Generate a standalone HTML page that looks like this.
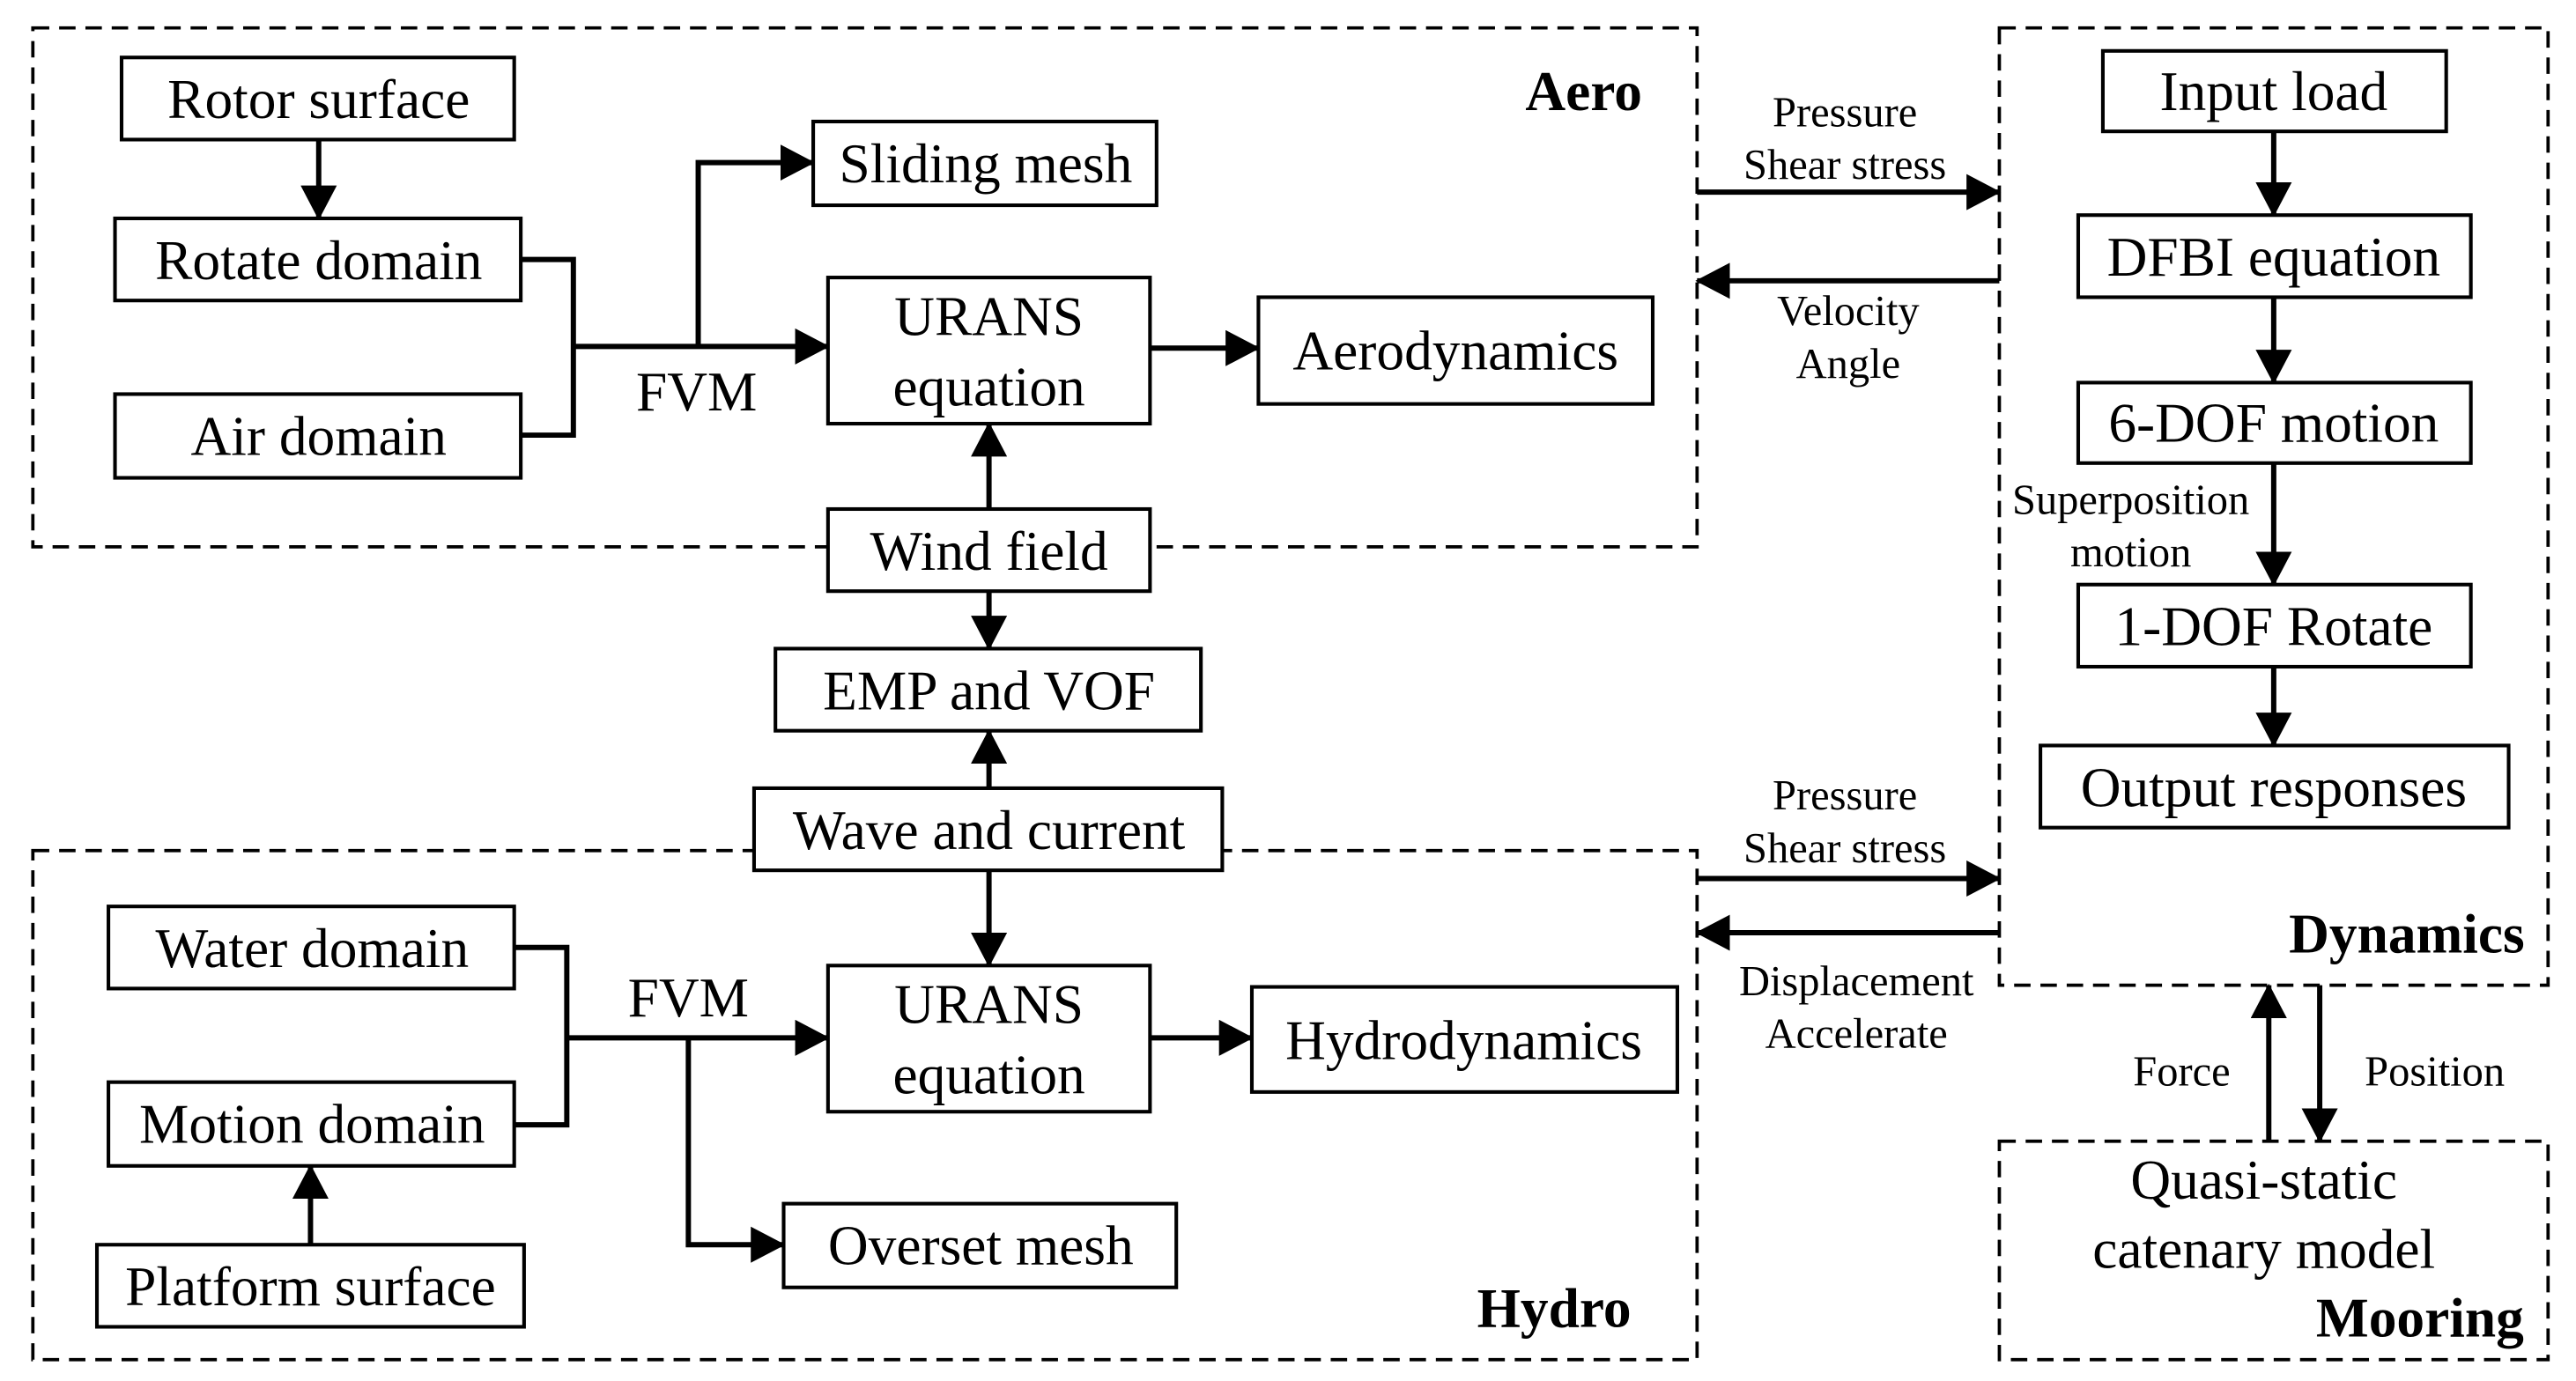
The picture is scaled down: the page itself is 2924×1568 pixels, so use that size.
<!DOCTYPE html>
<html><head><meta charset="utf-8"><style>
html,body{margin:0;padding:0;background:#fff;}
svg{display:block;}
text{font-family:"Liberation Serif","Times New Roman",serif;fill:#000;}
</style></head><body>
<svg width="2924" height="1568" viewBox="0 0 1568 841" preserveAspectRatio="none" xmlns="http://www.w3.org/2000/svg">
<defs>
<marker id="a" markerWidth="21" markerHeight="22" refX="20" refY="11" orient="auto" markerUnits="userSpaceOnUse">
<path d="M0,0 L21,11 L0,22 Z" fill="#000"/></marker>
</defs>
<g fill="none" stroke="#000" stroke-width="2" stroke-dasharray="10,6">
<rect x="20" y="17" width="1013" height="316"/>
<rect x="20" y="518" width="1013" height="310"/>
<rect x="1217" y="17" width="334" height="583"/>
<rect x="1217" y="695" width="334" height="133"/>
</g>
<g fill="#fff" stroke="#000" stroke-width="2.2">
<rect x="74" y="35" width="239" height="50"/>
<rect x="70" y="133" width="247" height="50"/>
<rect x="70" y="240" width="247" height="51"/>
<rect x="495" y="74" width="209" height="51"/>
<rect x="504" y="169" width="196" height="89"/>
<rect x="766" y="181" width="240" height="65"/>
<rect x="504" y="310" width="196" height="50"/>
<rect x="472" y="395" width="259" height="50"/>
<rect x="459" y="480" width="285" height="50"/>
<rect x="66" y="552" width="247" height="50"/>
<rect x="66" y="659" width="247" height="51"/>
<rect x="59" y="758" width="260" height="50"/>
<rect x="504" y="588" width="196" height="89"/>
<rect x="762" y="601" width="259" height="64"/>
<rect x="477" y="733" width="239" height="51"/>
<rect x="1280" y="31" width="209" height="49"/>
<rect x="1265" y="131" width="239" height="50"/>
<rect x="1265" y="233" width="239" height="49"/>
<rect x="1265" y="356" width="239" height="50"/>
<rect x="1242" y="454" width="285" height="50"/>
</g>
<g fill="none" stroke="#000" stroke-width="3.2">
<path d="M194,85 V133" marker-end="url(#a)"/>
<path d="M317,158 H349 V265 H317"/>
<path d="M349,211 H504" marker-end="url(#a)"/>
<path d="M425,211 V99 H495" marker-end="url(#a)"/>
<path d="M700,212 H766" marker-end="url(#a)"/>
<path d="M602,310 V258" marker-end="url(#a)"/>
<path d="M602,360 V395" marker-end="url(#a)"/>
<path d="M602,480 V445" marker-end="url(#a)"/>
<path d="M602,530 V588" marker-end="url(#a)"/>
<path d="M313,577 H345 V685 H313"/>
<path d="M345,632 H504" marker-end="url(#a)"/>
<path d="M419,632 V758 H477" marker-end="url(#a)"/>
<path d="M700,632 H762" marker-end="url(#a)"/>
<path d="M189,758 V710" marker-end="url(#a)"/>
<path d="M1033,117 H1217" marker-end="url(#a)"/>
<path d="M1217,171 H1033" marker-end="url(#a)"/>
<path d="M1033,535 H1217" marker-end="url(#a)"/>
<path d="M1217,568 H1033" marker-end="url(#a)"/>
<path d="M1384,80 V131" marker-end="url(#a)"/>
<path d="M1384,181 V233" marker-end="url(#a)"/>
<path d="M1384,282 V356" marker-end="url(#a)"/>
<path d="M1384,406 V454" marker-end="url(#a)"/>
<path d="M1381,695 V600" marker-end="url(#a)"/>
<path d="M1412,600 V695" marker-end="url(#a)"/>
</g>
<g font-size="34" text-anchor="middle">
<text x="194" y="72">Rotor surface</text>
<text x="194" y="170">Rotate domain</text>
<text x="194" y="277">Air domain</text>
<text x="600" y="111">Sliding mesh</text>
<text x="602" y="204">URANS</text>
<text x="602" y="247">equation</text>
<text x="886" y="225">Aerodynamics</text>
<text x="602" y="347">Wind field</text>
<text x="602" y="432">EMP and VOF</text>
<text x="602" y="517">Wave and current</text>
<text x="190" y="589">Water domain</text>
<text x="190" y="696">Motion domain</text>
<text x="189" y="795">Platform surface</text>
<text x="602" y="623">URANS</text>
<text x="602" y="666">equation</text>
<text x="891" y="645">Hydrodynamics</text>
<text x="597" y="770">Overset mesh</text>
<text x="1384" y="67">Input load</text>
<text x="1384" y="168">DFBI equation</text>
<text x="1384" y="269">6-DOF motion</text>
<text x="1384" y="393">1-DOF Rotate</text>
<text x="1384" y="491">Output responses</text>
<text x="424" y="250">FVM</text>
<text x="419" y="619">FVM</text>
<text x="1378" y="730">Quasi-static</text>
<text x="1378" y="772">catenary model</text>
</g>
<g font-size="34" font-weight="bold" text-anchor="middle">
<text x="964" y="67">Aero</text>
<text x="946" y="808">Hydro</text>
<text x="1465" y="580">Dynamics</text>
<text x="1473" y="814">Mooring</text>
</g>
<g font-size="26" text-anchor="middle">
<text x="1123" y="77">Pressure</text>
<text x="1123" y="109">Shear stress</text>
<text x="1125" y="198">Velocity</text>
<text x="1125" y="230">Angle</text>
<text x="1123" y="493">Pressure</text>
<text x="1123" y="525">Shear stress</text>
<text x="1130" y="606">Displacement</text>
<text x="1130" y="638">Accelerate</text>
<text x="1297" y="313">Superposition</text>
<text x="1297" y="345">motion</text>
<text x="1328" y="661">Force</text>
<text x="1482" y="661">Position</text>
</g>
</svg>
</body></html>
